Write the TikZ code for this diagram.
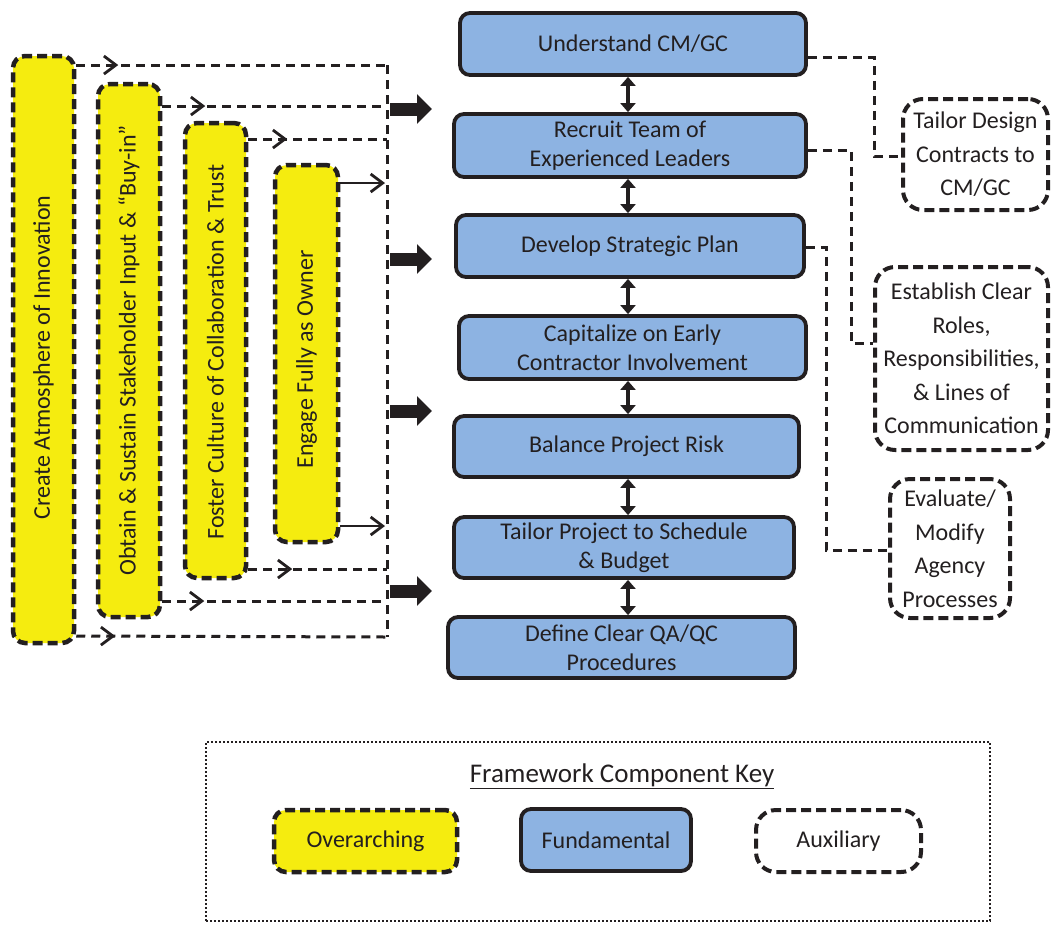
\documentclass[tikz,border=0pt]{standalone}
\usepackage{fontspec}
\setmainfont{Carlito}
\usepackage{graphicx}
\usetikzlibrary{arrows.meta,decorations.markings}
\definecolor{ink}{RGB}{35,31,32}
\definecolor{yel}{RGB}{245,236,15}
\definecolor{blu}{RGB}{141,179,226}
\begin{document}
\begin{tikzpicture}[x=1pt,y=-1pt,
  every node/.style={text=ink, font=\fontsize{24}{28.5}\selectfont, inner sep=0pt, align=center},
  ovr/.style={draw=ink, fill=yel, line width=4.5pt, dash pattern=on 10pt off 5pt, rounded corners=12pt},
  fund/.style={draw=ink, fill=blu, line width=3.8pt, rounded corners=10pt},
  aux/.style={draw=ink, fill=white, line width=4pt, dash pattern=on 10pt off 5pt, rounded corners=20pt, font=\fontsize{24}{33.5}\selectfont},
  conn/.style={draw=ink, line width=3pt, dash pattern=on 9pt off 6pt},
  midtip/.style={postaction={decorate,decoration={markings,mark=at position #1 with {\arrow[solid,line width=2.8pt]{Straight Barb[length=12pt,width=18pt]}}}}},
  feed/.style={draw=ink, line width=2.8pt, -{Straight Barb[length=12pt,width=18pt]}},
  link/.style={draw=ink, line width=4pt, {Triangle[width=15pt,length=9pt]}-{Triangle[width=15pt,length=9pt]}},
  push/.style={draw=ink, line width=13pt, -{Triangle[width=29pt,length=15pt]}},
]
\useasboundingbox (0,0) rectangle (1051,924);

% overarching components (yellow, dashed)
\node[ovr, minimum width=61pt, minimum height=587pt] (Y1) at (43.5,349.5) {\rotatebox{90}{Create Atmosphere of Innovation\hspace*{16pt}}};
\node[ovr, minimum width=62pt, minimum height=533pt] (Y2) at (129,350.5) {\rotatebox{90}{Obtain \& Sustain Stakeholder Input \& “Buy-in”}};
\node[ovr, minimum width=61pt, minimum height=455pt] (Y3) at (215.5,350.5) {\rotatebox{90}{Foster Culture of Collaboration \& Trust\hspace*{3pt}}};
\node[ovr, minimum width=63pt, minimum height=377pt] (Y4) at (306.5,353.5) {\rotatebox{90}{Engage Fully as Owner\hspace*{12pt}}};

% fundamental components (blue column)
\node[fund, minimum width=346pt, minimum height=62pt] (A) at (633,44) {Understand CM/GC};
\node[fund, minimum width=352pt, minimum height=63pt] (B) at (630,145.5) {Recruit Team of\\Experienced Leaders};
\node[fund, minimum width=348pt, minimum height=62pt] (C) at (630,246) {Develop Strategic Plan};
\node[fund, minimum width=347pt, minimum height=63pt] (D) at (632.5,347.5) {Capitalize on Early\\Contractor Involvement};
\node[fund, minimum width=345pt, minimum height=61pt] (E) at (626.5,446.5) {Balance Project Risk};
\node[fund, minimum width=340pt, minimum height=61pt] (F) at (624,547.5) {Tailor Project to Schedule\\\& Budget};
\node[fund, minimum width=347pt, minimum height=61pt] (G) at (621.5,647.5) {Define Clear QA/QC\\Procedures};

% auxiliary components (right, dashed)
\node[aux, minimum width=145pt, minimum height=111pt] (T) at (975.5,154.5) {Tailor Design\\Contracts to\\CM/GC};
\node[aux, minimum width=173pt, minimum height=183pt] (R) at (961.5,358.5) {Establish Clear\\Roles,\\Responsibilities,\\\& Lines of\\Communication};
\node[aux, minimum width=120pt, minimum height=139pt] (V) at (950,548.5) {Evaluate/\\Modify\\Agency\\Processes};

% collector line from the overarching components
\coordinate (bt) at (387,65);
\coordinate (bb) at (387,637);
\draw[conn] (bt) -- (bb);
\draw[conn, midtip=42pt] (Y1.east |- 0,65) -- (bt);
\draw[conn, midtip=43pt] (Y2.east |- 0,106) -- (bt |- 0,106);
\draw[conn, midtip=39pt] (Y3.east |- 0,139) -- (bt |- 0,139);
\draw[feed, shorten >=2pt] (Y4.east |- 0,183) -- (bt |- 0,183);
\draw[feed, shorten >=2pt] (Y4.east |- 0,526) -- (bt |- 0,526);
\draw[conn, midtip=44pt] (Y3.east |- 0,569) -- (bt |- 0,569);
\draw[conn, midtip=42pt] (Y2.east |- 0,601) -- (bt |- 0,601);
\draw[conn, midtip=39pt] (Y1.east |- 0,636) -- (bb);

% block arrows into the fundamental column
\foreach \y [count=\i] in {109,259,411,591} {
  \coordinate (ps\i) at (390,\y);
  \coordinate (pe\i) at (432,\y);
  \draw[push] (ps\i) -- (pe\i);
}

% links between fundamental components
\coordinate (ax) at (628,0);
\draw[link] (A.south -| ax) -- (B.north -| ax);
\draw[link] (B.south -| ax) -- (C.north -| ax);
\draw[link] (C.south -| ax) -- (D.north -| ax);
\draw[link] (D.south -| ax) -- (E.north -| ax);
\draw[link] (E.south -| ax) -- (F.north -| ax);
\draw[link] (F.south -| ax) -- (G.north -| ax);

% auxiliary connectors
\draw[conn] (A.east |- 0,57) -- (874,57) |- (T.west |- 0,156);
\draw[conn] (B.east |- 0,150) -- (851,150) |- (R.west |- 0,343);
\draw[conn] (C.east |- 0,247) -- (826,247) |- (V.west |- 0,550);

% key
\node[draw=ink, line width=2pt, dash pattern=on 2pt off 2pt, minimum width=784pt, minimum height=179pt] (key) at (598,831.5) {};
\node[font=\fontsize{27}{30}\selectfont] (kt) at (622,776) {\underline{Framework Component Key}};
\node[ovr, minimum width=183pt, minimum height=62pt] (ko) at (365.5,841) {Overarching};
\node[fund, minimum width=170pt, minimum height=62pt] (kf) at (606,840) {\raisebox{-3pt}{Fundamental}};
\node[aux, minimum width=165pt, minimum height=62pt] (ka) at (838.5,841) {Auxiliary};
\end{tikzpicture}
\end{document}
